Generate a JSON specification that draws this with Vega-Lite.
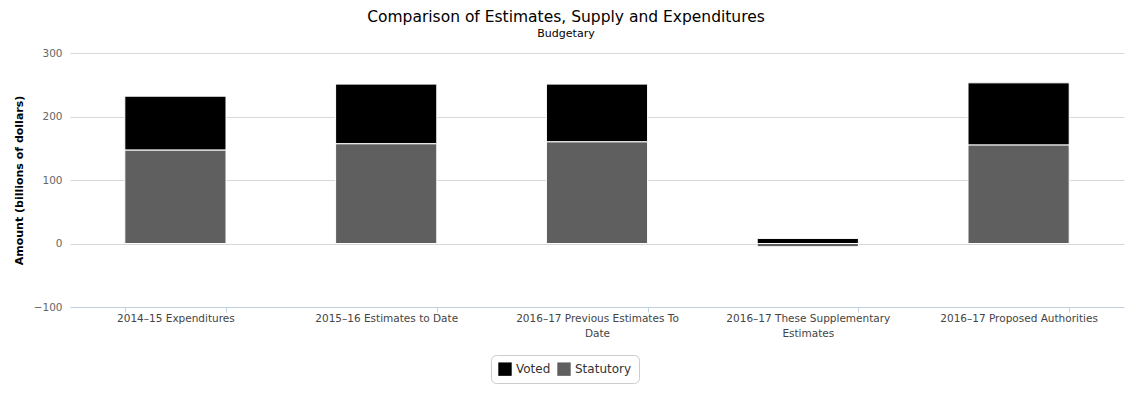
{
  "$schema": "https://vega.github.io/schema/vega-lite/v6.json",
  "autosize": {"type": "none"},
  "width": 1054,
  "height": 254,
  "padding": {"left": 70, "top": 53, "right": 11, "bottom": 88},
  "background": "#ffffff",
  "config": {
    "font": "DejaVu Sans",
    "view": {"stroke": null}
  },
  "title": {
    "text": "Comparison of Estimates, Supply and Expenditures",
    "subtitle": "Budgetary",
    "anchor": "middle",
    "frame": "group",
    "dx": -31,
    "offset": 9,
    "fontSize": 15.5,
    "fontWeight": "normal",
    "color": "#000000",
    "subtitleFontSize": 11,
    "subtitleColor": "#000000",
    "subtitlePadding": 3
  },
  "data": {
    "values": [
      {"category": "2014–15 Expenditures", "series": "Voted", "amount": 85, "ord": 2},
      {"category": "2014–15 Expenditures", "series": "Statutory", "amount": 147, "ord": 1},
      {"category": "2015–16 Estimates to Date", "series": "Voted", "amount": 94, "ord": 2},
      {"category": "2015–16 Estimates to Date", "series": "Statutory", "amount": 157, "ord": 1},
      {"category": "2016–17 Previous Estimates To Date", "series": "Voted", "amount": 91, "ord": 2},
      {"category": "2016–17 Previous Estimates To Date", "series": "Statutory", "amount": 160, "ord": 1},
      {"category": "2016–17 These Supplementary Estimates", "series": "Voted", "amount": 8, "ord": 2},
      {"category": "2016–17 These Supplementary Estimates", "series": "Statutory", "amount": -5, "ord": 1},
      {"category": "2016–17 Proposed Authorities", "series": "Voted", "amount": 98, "ord": 2},
      {"category": "2016–17 Proposed Authorities", "series": "Statutory", "amount": 155, "ord": 1}
    ]
  },
  "mark": {"type": "bar", "stroke": "#ffffff", "strokeWidth": 1},
  "encoding": {
    "x": {
      "field": "category",
      "type": "nominal",
      "sort": null,
      "scale": {"paddingInner": 0.52, "paddingOuter": 0.26},
      "axis": {
        "title": null,
        "labelAngle": 0,
        "labelFontSize": 10.5,
        "labelColor": "#444444",
        "labelPadding": 1,
        "labelExpr": "datum.value == '2016–17 Previous Estimates To Date' ? ['2016–17 Previous Estimates To', 'Date'] : datum.value == '2016–17 These Supplementary Estimates' ? ['2016–17 These Supplementary', 'Estimates'] : datum.value",
        "labelLineHeight": 15,
        "domainColor": "#c0d0e0",
        "domainWidth": 1,
        "tickColor": "#c0d0e0",
        "tickSize": 5,
        "tickBand": "extent",
        "grid": false
      }
    },
    "y": {
      "field": "amount",
      "type": "quantitative",
      "stack": "zero",
      "scale": {"domain": [-100, 300], "nice": false},
      "axis": {
        "title": "Amount (billions of dollars)",
        "titleFontSize": 11,
        "titleFontWeight": "bold",
        "titleColor": "#000000",
        "titlePadding": 9,
        "values": [-100, 0, 100, 200, 300],
        "labelFontSize": 10.5,
        "labelColor": "#666666",
        "labelPadding": 8,
        "tickSize": 0,
        "domain": false,
        "grid": true,
        "gridColor": "#d8d8d8",
        "gridWidth": 1
      }
    },
    "color": {
      "field": "series",
      "type": "nominal",
      "scale": {"domain": ["Voted", "Statutory"], "range": ["#000000", "#5f5f5f"]},
      "legend": {
        "title": null,
        "orient": "none",
        "legendX": 421,
        "legendY": 302,
        "direction": "horizontal",
        "symbolType": "square",
        "symbolSize": 180,
        "symbolStrokeWidth": 0,
        "labelFontSize": 12,
        "labelColor": "#333333",
        "labelOffset": 4,
        "columnPadding": 6,
        "padding": 7,
        "strokeColor": "#cccccc",
        "cornerRadius": 5,
        "fillColor": "#ffffff"
      }
    },
    "order": {"field": "ord", "type": "quantitative"}
  }
}
